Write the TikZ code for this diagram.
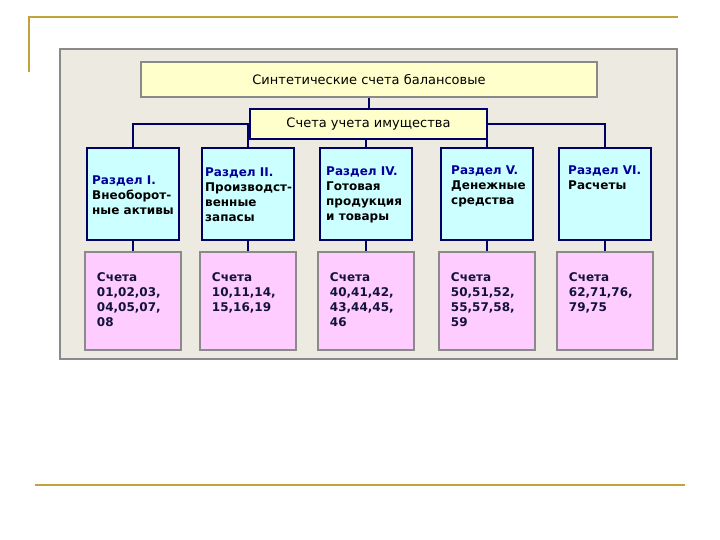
\documentclass[tikz,border=0pt]{standalone}
\usepackage{fontspec}
\setmainfont{DejaVu Sans}
\usepackage{xcolor}
\usepackage{tikz}
\usetikzlibrary{positioning,calc}
\definecolor{navy}{HTML}{000066}
\definecolor{navytext}{HTML}{000099}
\definecolor{inktext}{HTML}{12123A}
\definecolor{gold}{HTML}{C2A33A}
\definecolor{beige}{HTML}{EDEAE2}
\definecolor{lemon}{HTML}{FFFFCC}
\definecolor{aqua}{HTML}{CCFFFF}
\definecolor{orchid}{HTML}{FFCCFF}
\definecolor{bevel}{HTML}{8A8A8A}
\tikzset{
  ramka/.style={draw=gold, line width=2pt},
  panel/.style={draw=bevel, line width=1.5pt, fill=beige},
  shapka/.style={
    rectangle, draw=#1, fill=lemon, line width=2pt,
    font=\fontsize{13}{15}\selectfont, inner sep=0pt
  },
  shapka/.default=bevel,
  razdel/.style={
    rectangle, draw=navy, fill=aqua, line width=2pt,
    minimum width=92pt, minimum height=92pt, inner sep=0pt
  },
  schet/.style={
    rectangle, draw=bevel, fill=orchid, line width=2.5pt,
    minimum width=96pt, minimum height=98pt, inner sep=0pt
  },
  boxtext/.style={
    anchor=north west, inner sep=0pt, align=left,
    font=\fontsize{12}{15}\selectfont\bfseries, text=#1
  },
  boxtext/.default=black,
  link/.style={draw=navy, line width=2pt},
}

\begin{document}
\begin{tikzpicture}[x=1pt, y=-1pt]
  \useasboundingbox[fill=white] (0,0) rectangle (720,540);
  % slide frame
  \draw[ramka] (29,72) -- (29,17) -- (678,17);
  \draw[ramka] (35,485) -- (685,485);
  \draw[panel] (60,49) rectangle (677,359);
  % headers
  \node[shapka, minimum width=456pt, minimum height=35pt] (top) at (369,79.5) {Синтетические счета балансовые};
  \node[shapka=navy, minimum width=237pt, minimum height=30pt] (sec) at (368.5,124) {Счета учета имущества};
  % sections
  \node[razdel] (r1) at (133,194) {};
  \node[razdel] (r2) at (248,194) {};
  \node[razdel] (r3) at (366,194) {};
  \node[razdel] (r4) at (487,194) {};
  \node[razdel] (r5) at (605,194) {};
  \node[boxtext] at ([xshift=6pt, yshift=-29pt]r1.north west) (t1) {\textcolor{navytext}{Раздел I.}\\Внеоборот-\\ные активы};
  \node[boxtext] at ([xshift=4pt, yshift=-21pt]r2.north west) (t2) {\textcolor{navytext}{Раздел II.}\\Производст-\\венные\\запасы};
  \node[boxtext] at ([xshift=7pt, yshift=-20pt]r3.north west) (t3) {\textcolor{navytext}{Раздел IV.}\\Готовая\\продукция\\и товары};
  \node[boxtext] at ([xshift=11pt, yshift=-19pt]r4.north west) (t4) {\textcolor{navytext}{Раздел V.}\\Денежные\\средства};
  \node[boxtext] at ([xshift=10pt, yshift=-19pt]r5.north west) (t5) {\textcolor{navytext}{Раздел VI.}\\Расчеты};
  % accounts
  \node[schet] at ([yshift=-107pt]r1.center) (s1) {};
  \node[schet] at ([yshift=-107pt]r2.center) (s2) {};
  \node[schet] at ([yshift=-107pt]r3.center) (s3) {};
  \node[schet] at ([yshift=-107pt]r4.center) (s4) {};
  \node[schet] at ([yshift=-107pt]r5.center) (s5) {};
  \node[boxtext=inktext] at ([xshift=13pt, yshift=-22pt]s1.north west) (c1) {Счета\\01,02,03,\\04,05,07,\\08};
  \node[boxtext=inktext] at ([xshift=13pt, yshift=-22pt]s2.north west) (c2) {Счета\\10,11,14,\\15,16,19};
  \node[boxtext=inktext] at ([xshift=13pt, yshift=-22pt]s3.north west) (c3) {Счета\\40,41,42,\\43,44,45,\\46};
  \node[boxtext=inktext] at ([xshift=13pt, yshift=-22pt]s4.north west) (c4) {Счета\\50,51,52,\\55,57,58,\\59};
  \node[boxtext=inktext] at ([xshift=13pt, yshift=-22pt]s5.north west) (c5) {Счета\\62,71,76,\\79,75};
  % connectors
  \draw[link] (top.south -| sec.north) -- (sec.north);
  \draw[link] (sec.west) -| (r1.north);
  \draw[link] (sec.west -| r2.north) -- (r2.north);
  \draw[link] (sec.south -| r3.north) -- (r3.north);
  \draw[link] (sec.east) -| (r5.north);
  \draw[link] (sec.east -| r4.north) -- (r4.north);
  \draw[link] (r1) -- (s1);
  \draw[link] (r2) -- (s2);
  \draw[link] (r3) -- (s3);
  \draw[link] (r4) -- (s4);
  \draw[link] (r5) -- (s5);
\end{tikzpicture}
\end{document}
